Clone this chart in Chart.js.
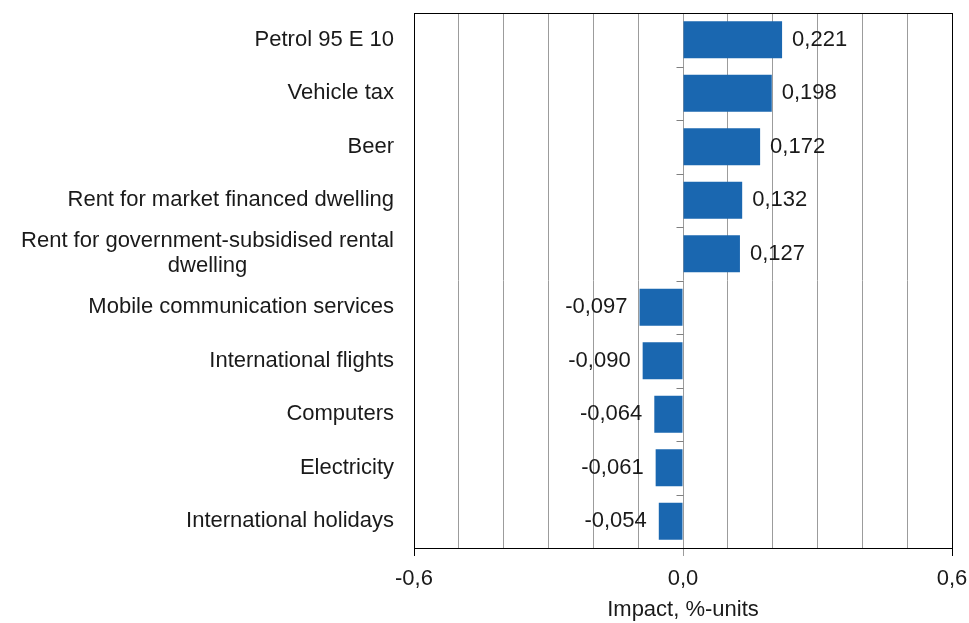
<!DOCTYPE html>
<html>
<head>
<meta charset="utf-8">
<script src="https://cdn.jsdelivr.net/npm/chart.js@4.4.0/dist/chart.umd.min.js"></script>
<style>
  html, body { margin: 0; padding: 0; background: #fff; }
  #wrap { width: 969px; height: 623px; position: relative; }
</style>
</head>
<body>
<div id="wrap"><canvas id="chart"></canvas></div>
<script>
// Data
const categories = [
  ['Petrol 95 E 10'],
  ['Vehicle tax'],
  ['Beer'],
  ['Rent for market financed dwelling'],
  ['Rent for government-subsidised rental', 'dwelling'],
  ['Mobile communication services'],
  ['International flights'],
  ['Computers'],
  ['Electricity'],
  ['International holidays']
];
const impactValues = [0.221, 0.198, 0.172, 0.132, 0.127, -0.097, -0.090, -0.064, -0.061, -0.054];
const shownTicks = [-0.6, 0.0, 0.6];
const axisTitle = 'Impact, %-units';

const FONT = '"Liberation Sans", Arial, sans-serif';
const FONT_SIZE = 22;
const TEXT_COLOR = '#1a1a1a';
const GRID_COLOR = '#9c9c9c';

// comma decimals like the original
function fmt(v, digits) {
  if (Math.abs(v) < 1e-9) v = 0;
  return v.toFixed(digits).replace('.', ',');
}
function isShown(v) {
  return shownTicks.some(t => Math.abs(t - v) < 1e-6);
}

// category labels, value labels, frame and small ticks on the zero line
const decorPlugin = {
  id: 'decor',
  afterDatasetsDraw(chart) {
    const ctx = chart.ctx;
    const area = chart.chartArea;
    const xScale = chart.scales.x;
    const yScale = chart.scales.y;
    const x0 = Math.round(xScale.getPixelForValue(0)) + 0.5;

    ctx.save();
    // ticks on the zero line at category boundaries
    ctx.strokeStyle = '#808080';
    ctx.lineWidth = 1;
    const step = (area.bottom - area.top) / categories.length;
    for (let i = 0; i <= categories.length; i++) {
      const y = Math.round(area.top + i * step) + 0.5;
      ctx.beginPath();
      ctx.moveTo(x0 - 7, y);
      ctx.lineTo(x0, y);
      ctx.stroke();
    }

    // frame
    ctx.strokeStyle = '#000';
    ctx.strokeRect(Math.round(area.left) + 0.5, Math.round(area.top) + 0.5,
      Math.round(area.right - area.left), Math.round(area.bottom - area.top));

    // category labels
    ctx.font = `${FONT_SIZE}px ${FONT}`;
    ctx.fillStyle = TEXT_COLOR;
    ctx.textBaseline = 'middle';
    const labelRight = area.left - 20;
    categories.forEach((lines, i) => {
      const y = yScale.getPixelForValue(i);
      if (lines.length === 1) {
        ctx.textAlign = 'right';
        ctx.fillText(lines[0], labelRight, y);
      } else {
        const w = ctx.measureText(lines[0]).width;
        const cx = labelRight - w / 2;
        ctx.textAlign = 'center';
        ctx.fillText(lines[0], cx, y - 12.5);
        ctx.fillText(lines[1], cx, y + 12.5);
      }
    });

    // value labels
    const meta = chart.getDatasetMeta(0);
    meta.data.forEach((bar, i) => {
      const v = impactValues[i];
      if (v >= 0) {
        ctx.textAlign = 'left';
        ctx.fillText(fmt(v, 3), bar.x + 10, bar.y);
      } else {
        ctx.textAlign = 'right';
        ctx.fillText(fmt(v, 3), bar.x - 12, bar.y);
      }
    });
    ctx.restore();
  }
};

const canvas = document.getElementById('chart');
new Chart(canvas, {
  type: 'bar',
  data: {
    labels: categories.map(c => c.join(' ')),
    datasets: [{
      data: impactValues,
      backgroundColor: '#1a67b0',
      borderWidth: 0,
      categoryPercentage: 1,
      barPercentage: 0.69
    }]
  },
  options: {
    indexAxis: 'y',
    responsive: true,
    maintainAspectRatio: false,
    animation: false,
    layout: { padding: { top: 13, right: 17, left: 0, bottom: 0 } },
    plugins: {
      legend: { display: false },
      tooltip: { enabled: false }
    },
    scales: {
      x: {
        min: -0.6,
        max: 0.6,
        afterFit(scale) {
          scale.height = 75;
          scale.paddingLeft = 0;
          scale.paddingRight = 0;
        },
        ticks: {
          stepSize: 0.1,
          autoSkip: false,
          maxRotation: 0,
          padding: 10,
          color: TEXT_COLOR,
          font: { family: FONT, size: FONT_SIZE },
          callback: (v) => isShown(v) ? fmt(v, 1) : ''
        },
        grid: {
          color: GRID_COLOR,
          lineWidth: 1,
          tickLength: 8,
          tickColor: (c) => (c.tick && isShown(c.tick.value) && Math.abs(c.tick.value) > 0.01) ? '#000' : (c.tick && Math.abs(c.tick.value) < 1e-6 ? GRID_COLOR : 'rgba(0,0,0,0)')
        },
        border: { display: false },
        title: {
          display: true,
          text: axisTitle,
          color: TEXT_COLOR,
          font: { family: FONT, size: FONT_SIZE },
          padding: { top: 0, bottom: 0 }
        }
      },
      y: {
        afterFit(scale) { scale.width = 414; },
        ticks: { display: false },
        grid: { display: false },
        border: { display: false }
      }
    }
  },
  plugins: [decorPlugin]
});
</script>
</body>
</html>
